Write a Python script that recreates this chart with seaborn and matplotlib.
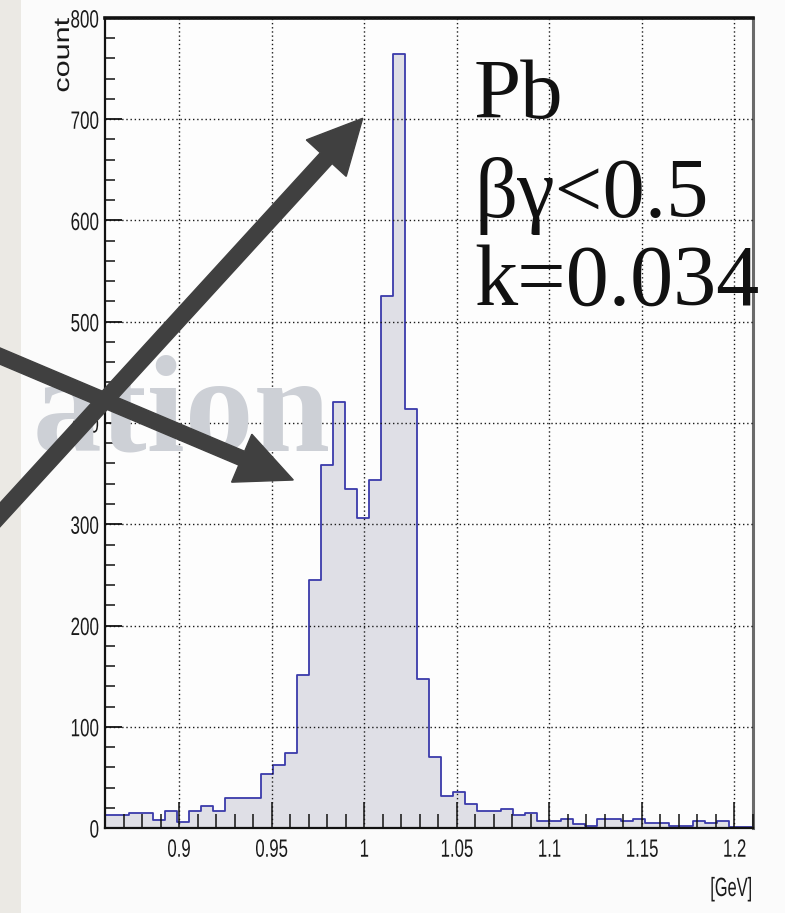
import numpy as np
import pandas as pd
import matplotlib
matplotlib.use("Agg")
import matplotlib.pyplot as plt
import seaborn as sns
from matplotlib.patches import Rectangle, FancyArrow
from matplotlib.patheffects import AbstractPathEffect
from matplotlib.transforms import Affine2D
from matplotlib.ticker import FixedLocator, FixedFormatter, MultipleLocator

# ---- data -------------------------------------------------------------
x_min, x_max, n_bins = 0.86, 1.21, 54
counts = [13, 13, 15, 15, 8, 17, 6, 17, 22, 17,
          30, 30, 30, 53, 62, 74, 151, 245, 359, 421,
          335, 306, 344, 525, 764, 414, 147, 70, 32, 36,
          24, 17, 17, 19, 13, 15, 7, 7, 9, 4,
          2, 9, 9, 7, 9, 5, 5, 2, 2, 7,
          5, 7, 1, 1]
x_ticks = [0.9, 0.95, 1.0, 1.05, 1.1, 1.15, 1.2]
x_tick_labels = ["0.9", "0.95", "1", "1.05", "1.1", "1.15", "1.2"]
y_ticks = [0, 100, 200, 300, 400, 500, 600, 700, 800]
y_tick_labels = ["0", "100", "200", "300", "400", "500", "600", "700", "800"]
x_label = "[GeV]"
y_label = "count"
notes = ["Pb", "βγ<0.5", "k=0.034"]
watermark = "ation"

edges = np.linspace(x_min, x_max, n_bins + 1)
centers = (edges[:-1] + edges[1:]) / 2
df = pd.DataFrame({"mass": centers, "count": counts})
bin_list = [float(e) for e in edges]


class Squeeze(AbstractPathEffect):
    """Condense text glyphs (sx along the text direction, sy across it)."""

    def __init__(self, sx=1.0, sy=1.0, anchor="center"):
        super().__init__()
        self.sx, self.sy, self.anchor = sx, sy, anchor

    def draw_path(self, renderer, gc, tpath, affine, rgbFace=None):
        ext = tpath.get_extents()
        if self.anchor == "right":
            a = ext.x1
        elif self.anchor == "left":
            a = ext.x0
        else:
            a = 0.5 * (ext.x0 + ext.x1)
        t = Affine2D().translate(-a, 0).scale(self.sx, self.sy).translate(a, 0) + affine
        renderer.draw_path(gc, tpath, t, rgbFace)


# ---- style ------------------------------------------------------------
sns.set_theme(style="white")
plt.rcParams["font.family"] = ["Liberation Sans", "DejaVu Sans"]

W, H = 785, 913
fig = plt.figure(figsize=(W / 100, H / 100), dpi=100, facecolor="#fbfbfb")
fig.add_artist(Rectangle((0, 0), 21 / W, 1, transform=fig.transFigure,
                         facecolor="#ebe9e4", edgecolor="none", zorder=-1))

L, R, T, B = 105, 753, 18, 828
ax = fig.add_axes([L / W, 1 - B / H, (R - L) / W, (B - T) / H])
ax.set_facecolor("#fdfdfd")

sns.histplot(data=df, x="mass", weights="count", bins=bin_list, element="step",
             fill=True, color="#dfdfe6", alpha=1, linewidth=0, ax=ax, zorder=1)
sns.histplot(data=df, x="mass", weights="count", bins=bin_list, element="step",
             fill=False, color="#3b3bab", linewidth=1.3, ax=ax, zorder=2)

ax.set_xlim(x_min, x_max)
ax.set_ylim(0, 800)
ax.xaxis.set_major_locator(FixedLocator(x_ticks))
ax.xaxis.set_major_formatter(FixedFormatter(x_tick_labels))
ax.yaxis.set_major_locator(FixedLocator(y_ticks))
ax.yaxis.set_major_formatter(FixedFormatter(y_tick_labels))
ax.xaxis.set_minor_locator(MultipleLocator(0.01))
ax.yaxis.set_minor_locator(MultipleLocator(20))

ax.tick_params(axis="x", which="major", direction="in", length=18.5, width=1.1,
               color="#111111", labelsize=18, labelcolor="#1a1a1a", pad=7,
               top=False, bottom=True)
ax.tick_params(axis="x", which="minor", direction="in", length=10, width=1.1,
               color="#111111", top=False, bottom=True)
ax.tick_params(axis="y", which="major", direction="in", length=12.5, width=1.3,
               color="#111111", labelsize=18, labelcolor="#1a1a1a", pad=4,
               left=True, right=False)
ax.tick_params(axis="y", which="minor", direction="in", length=7.5, width=1.1,
               color="#111111", left=True, right=False)

for tk in ax.xaxis.get_major_ticks():
    tk.label1.set_path_effects([Squeeze(0.67, 1.0, "center")])
for tk in ax.yaxis.get_major_ticks():
    tk.label1.set_path_effects([Squeeze(0.68, 1.0, "right")])

ax.set_axisbelow(False)
ax.grid(True, which="major", linestyle=(0, (1.0, 2.0)), color="#1a1a1a", linewidth=1.0)

for side, lw, col in [("top", 2.6, "#111111"), ("right", 2.2, "#6a6a6a"),
                      ("left", 1.6, "#111111"), ("bottom", 1.6, "#111111")]:
    ax.spines[side].set_visible(True)
    ax.spines[side].set_linewidth(lw)
    ax.spines[side].set_color(col)

xl = ax.set_xlabel(x_label, loc="right", fontsize=19, color="#1a1a1a", labelpad=11)
xl.set_path_effects([Squeeze(0.62, 1.0, "right")])
yl = ax.set_ylabel(y_label, loc="top", fontsize=22, color="#1a1a1a")
yl.set_path_effects([Squeeze(1.0, 0.72, "center")])
ax.yaxis.set_label_coords((76 - L) / (R - L), 1.0)

# ---- overlay (annotations in pixel coordinates) -----------------------
ov = fig.add_axes([0, 0, 1, 1], zorder=5)
ov.set_xlim(0, W)
ov.set_ylim(H, 0)
ov.axis("off")
ov.patch.set_visible(False)

ov.text(33, 451, watermark, fontsize=99, family=["Liberation Serif", "DejaVu Serif"],
        fontweight="bold", color="#cdd0d6", va="baseline", ha="left", zorder=1)

serif = ["Liberation Serif", "DejaVu Serif"]
ov.text(474, 118, notes[0], fontsize=61, family=serif, color="#111111", va="baseline")
ov.text(474, 217, notes[1], fontsize=61, family=serif, color="#111111", va="baseline")
ov.text(474, 305, notes[2], fontsize=62, family=serif, color="#111111", va="baseline")

arrow_col = "#404040"
# arrow pointing at the main peak
x0, y0, x1, y1 = -12, 528, 362.7, 118.3
ov.add_patch(FancyArrow(x0, y0, x1 - x0, y1 - y0, width=16, head_width=54,
                        head_length=54, length_includes_head=True,
                        color=arrow_col, zorder=3))
# arrow pointing at the shoulder
x0, y0, x1, y1 = -12, 351, 293.3, 480
ov.add_patch(FancyArrow(x0, y0, x1 - x0, y1 - y0, width=15, head_width=52,
                        head_length=56, length_includes_head=True,
                        color=arrow_col, zorder=3))

fig.savefig("out.png", dpi=100, facecolor=fig.get_facecolor())
